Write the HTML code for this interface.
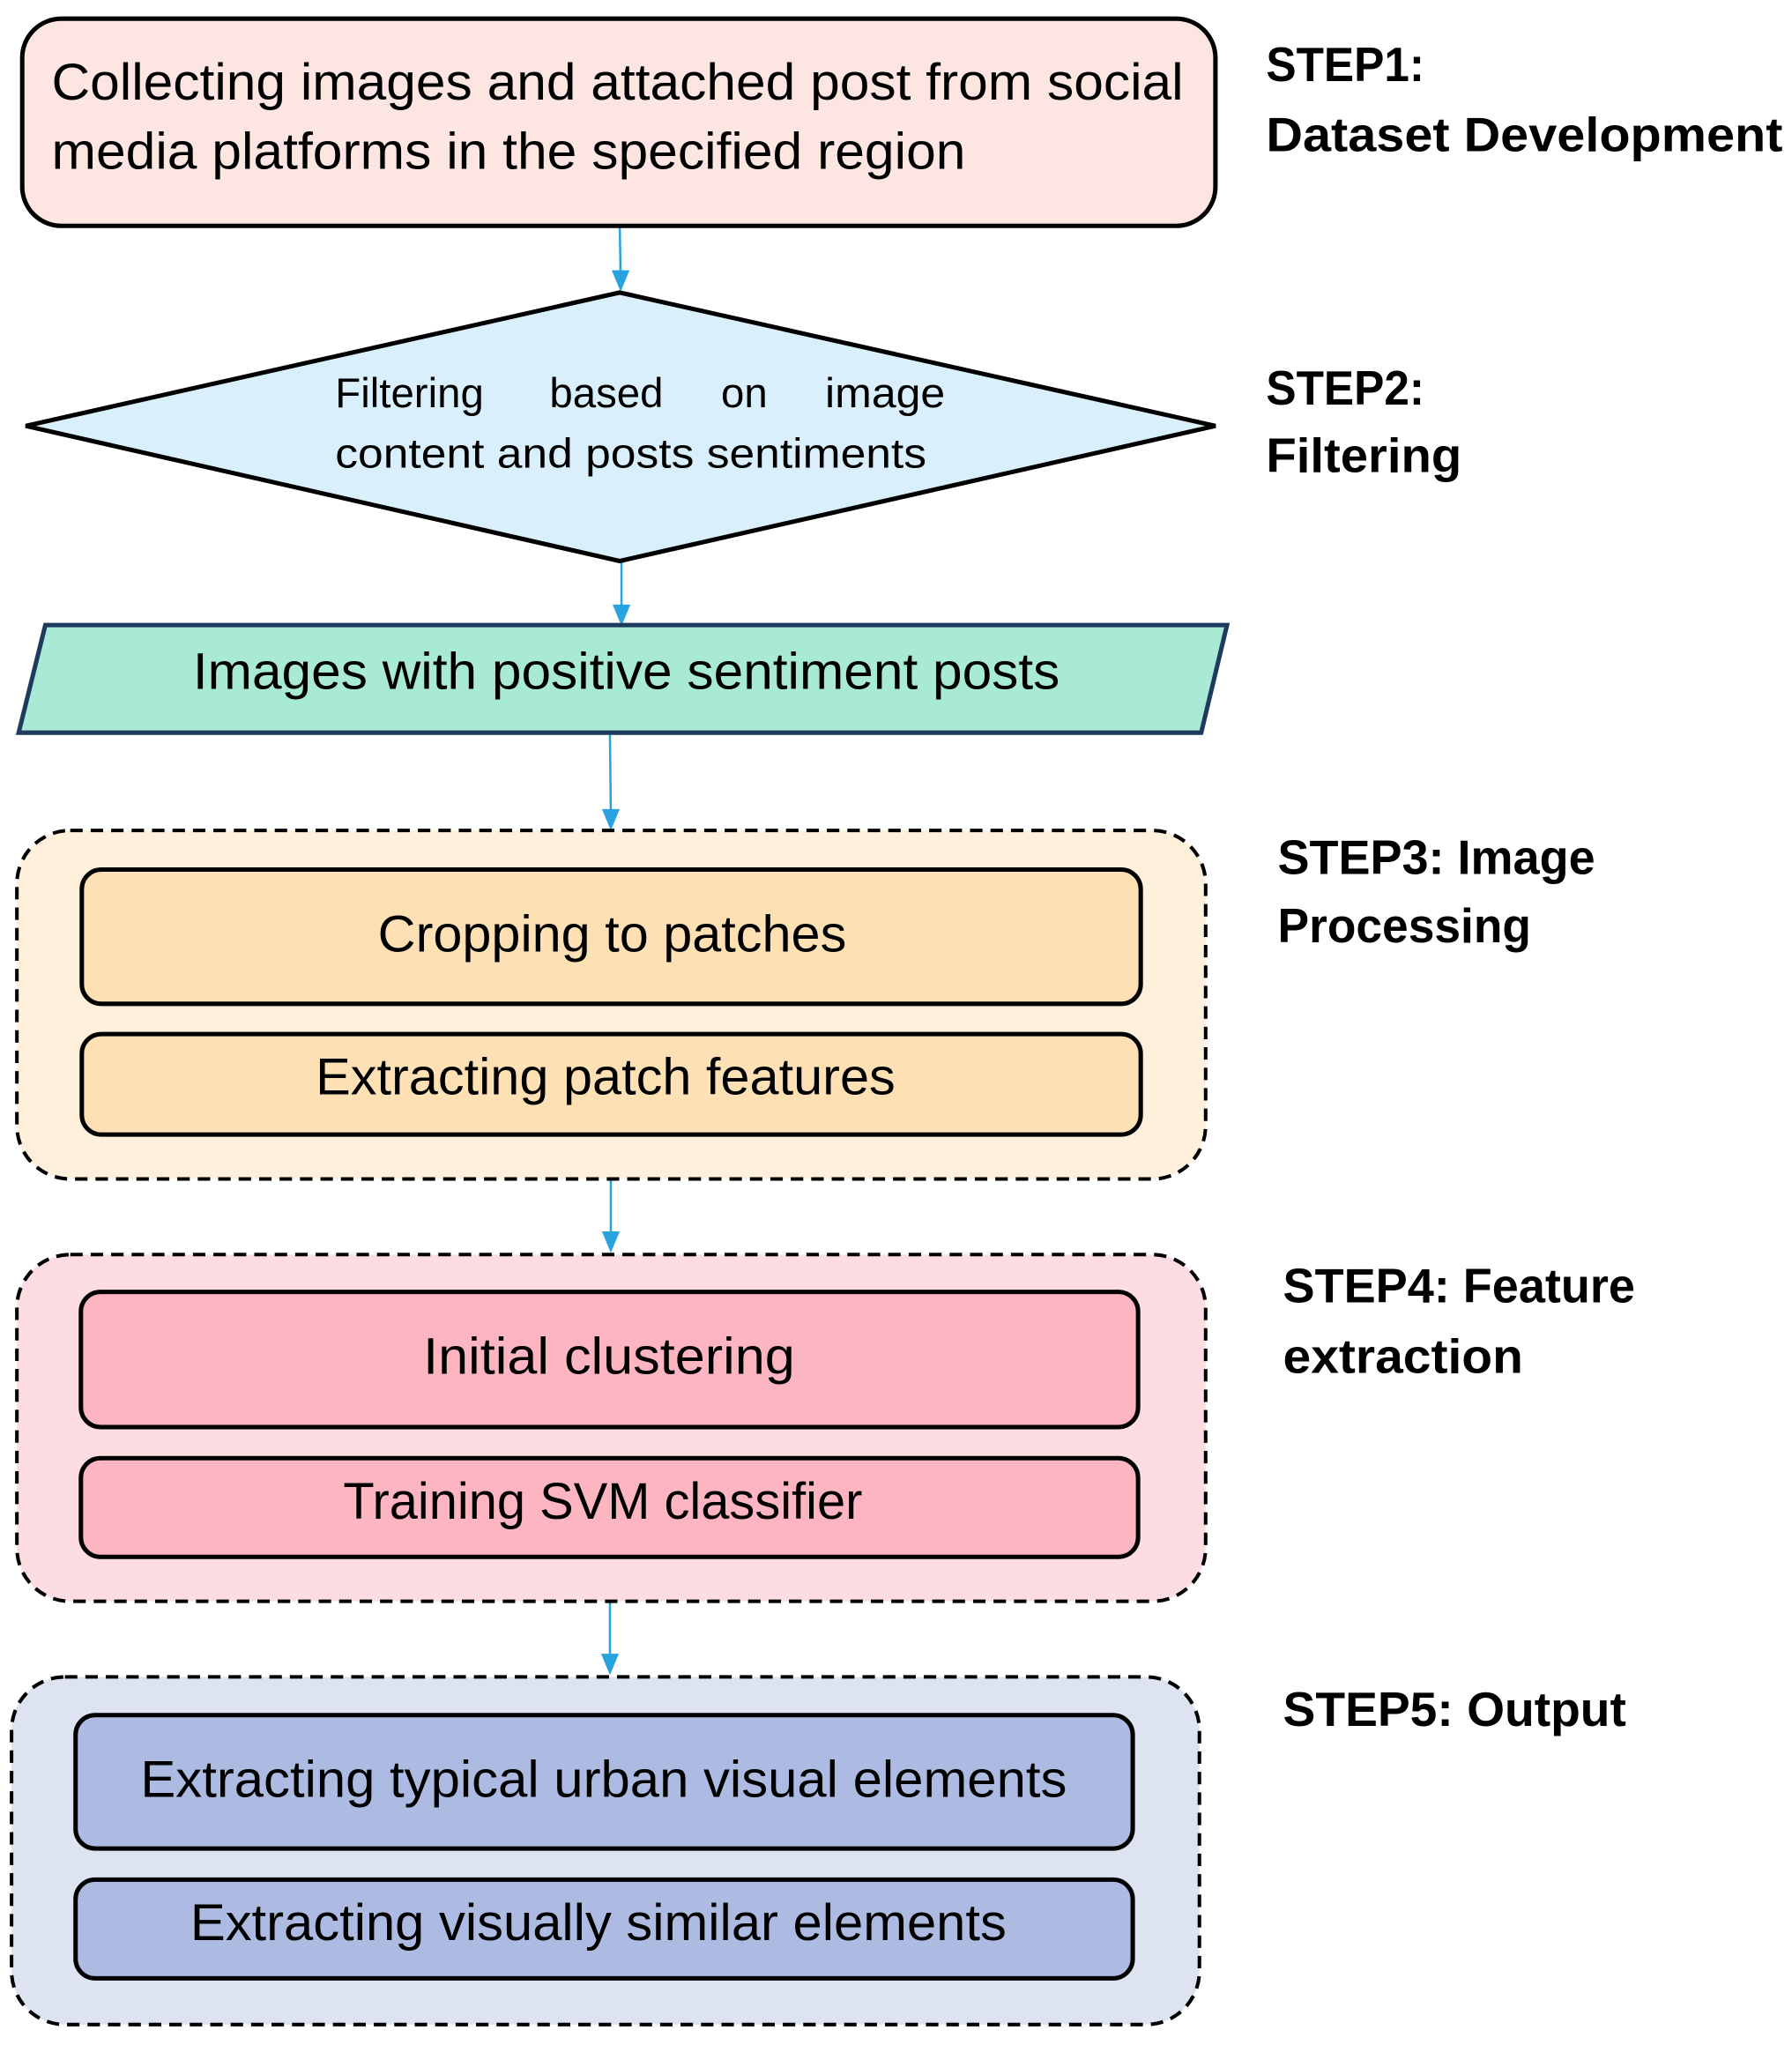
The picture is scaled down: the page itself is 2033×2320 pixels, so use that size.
<!DOCTYPE html>
<html><head><meta charset="utf-8"><style>html,body{margin:0;padding:0;background:#fff}svg{display:block}</style></head>
<body>
<svg width="2033" height="2320" viewBox="0 0 2033 2320" xmlns="http://www.w3.org/2000/svg" font-family="Liberation Sans, sans-serif">
<g transform="scale(1.0087)">
<g fill="none" stroke="#29a3e0" stroke-width="2.5">
<line x1="697" y1="254" x2="698" y2="310"/>
<line x1="699" y1="631" x2="699" y2="686"/>
<line x1="686" y1="824" x2="687" y2="916"/>
<line x1="687" y1="1326" x2="687" y2="1390"/>
<line x1="686" y1="1801" x2="686" y2="1866"/>
</g>
<g fill="#29a3e0">
<polygon points="688,304 708,304 698,328"/>
<polygon points="689,680 709,680 699,704"/>
<polygon points="677,910 697,910 687,934"/>
<polygon points="677,1385 697,1385 687,1409"/>
<polygon points="676,1860 696,1860 686,1884"/>
</g>
<rect x="25" y="21" width="1342" height="233" rx="44" fill="#fde5e2" stroke="#000" stroke-width="5"/>
<polygon points="29,479 697,329 1367,479 697,631" fill="#d9effb" stroke="#000" stroke-width="5"/>
<polygon points="51,703 1380,703 1351,824 21,824" fill="#a8ead6" stroke="#1f3a5f" stroke-width="5"/>
<g stroke="#000" stroke-width="4" stroke-dasharray="14,9">
<rect x="19" y="934" width="1337" height="392" rx="60" fill="#fff0dc"/>
<rect x="19" y="1411" width="1337" height="390" rx="60" fill="#fddde2"/>
<rect x="13" y="1886" width="1336" height="391" rx="60" fill="#dee3f1"/>
</g>
<g stroke="#000" stroke-width="5">
<rect x="92" y="978" width="1191" height="151" rx="22" fill="#fde0b4"/>
<rect x="92" y="1163" width="1191" height="113" rx="22" fill="#fde0b4"/>
<rect x="91" y="1453" width="1189" height="152" rx="22" fill="#fdb5c1"/>
<rect x="91" y="1640" width="1189" height="111" rx="22" fill="#fdb5c1"/>
<rect x="85" y="1929" width="1189" height="150" rx="22" fill="#adbbe2"/>
<rect x="85" y="2114" width="1189" height="111" rx="22" fill="#adbbe2"/>
</g>
<g fill="#000" font-size="58">
<text x="58" y="112" textLength="1273" lengthAdjust="spacingAndGlyphs">Collecting images and attached post from social</text>
<text x="58" y="190" textLength="1028" lengthAdjust="spacingAndGlyphs">media platforms in the specified region</text>
<text x="217" y="775" textLength="975" lengthAdjust="spacingAndGlyphs">Images with positive sentiment posts</text>
<text x="425" y="1070" textLength="527" lengthAdjust="spacingAndGlyphs">Cropping to patches</text>
<text x="355" y="1231" textLength="652" lengthAdjust="spacingAndGlyphs">Extracting patch features</text>
<text x="476" y="1545" textLength="418" lengthAdjust="spacingAndGlyphs">Initial clustering</text>
<text x="386" y="1708" textLength="584" lengthAdjust="spacingAndGlyphs">Training SVM classifier</text>
<text x="158" y="2021" textLength="1042" lengthAdjust="spacingAndGlyphs">Extracting typical urban visual elements</text>
<text x="214" y="2182" textLength="918" lengthAdjust="spacingAndGlyphs">Extracting visually similar elements</text>
</g>
<g fill="#000" font-size="47">
<text x="377" y="458">Filtering</text>
<text x="618" y="458">based</text>
<text x="811" y="458">on</text>
<text x="928" y="458" textLength="135" lengthAdjust="spacingAndGlyphs">image</text>
<text x="377" y="526" textLength="665" lengthAdjust="spacingAndGlyphs">content and posts sentiments</text>
</g>
<g fill="#000" font-size="54" font-weight="bold">
<text x="1424" y="91" textLength="178" lengthAdjust="spacingAndGlyphs">STEP1:</text>
<text x="1424" y="170" textLength="581" lengthAdjust="spacingAndGlyphs">Dataset Development</text>
<text x="1424" y="455" textLength="178" lengthAdjust="spacingAndGlyphs">STEP2:</text>
<text x="1424" y="531" textLength="220" lengthAdjust="spacingAndGlyphs">Filtering</text>
<text x="1437" y="983" textLength="357" lengthAdjust="spacingAndGlyphs">STEP3: Image</text>
<text x="1437" y="1060" textLength="285" lengthAdjust="spacingAndGlyphs">Processing</text>
<text x="1443" y="1465" textLength="396" lengthAdjust="spacingAndGlyphs">STEP4: Feature</text>
<text x="1443" y="1544" textLength="270" lengthAdjust="spacingAndGlyphs">extraction</text>
<text x="1443" y="1941" textLength="386" lengthAdjust="spacingAndGlyphs">STEP5: Output</text>
</g>
</g>
</svg>
</body></html>
